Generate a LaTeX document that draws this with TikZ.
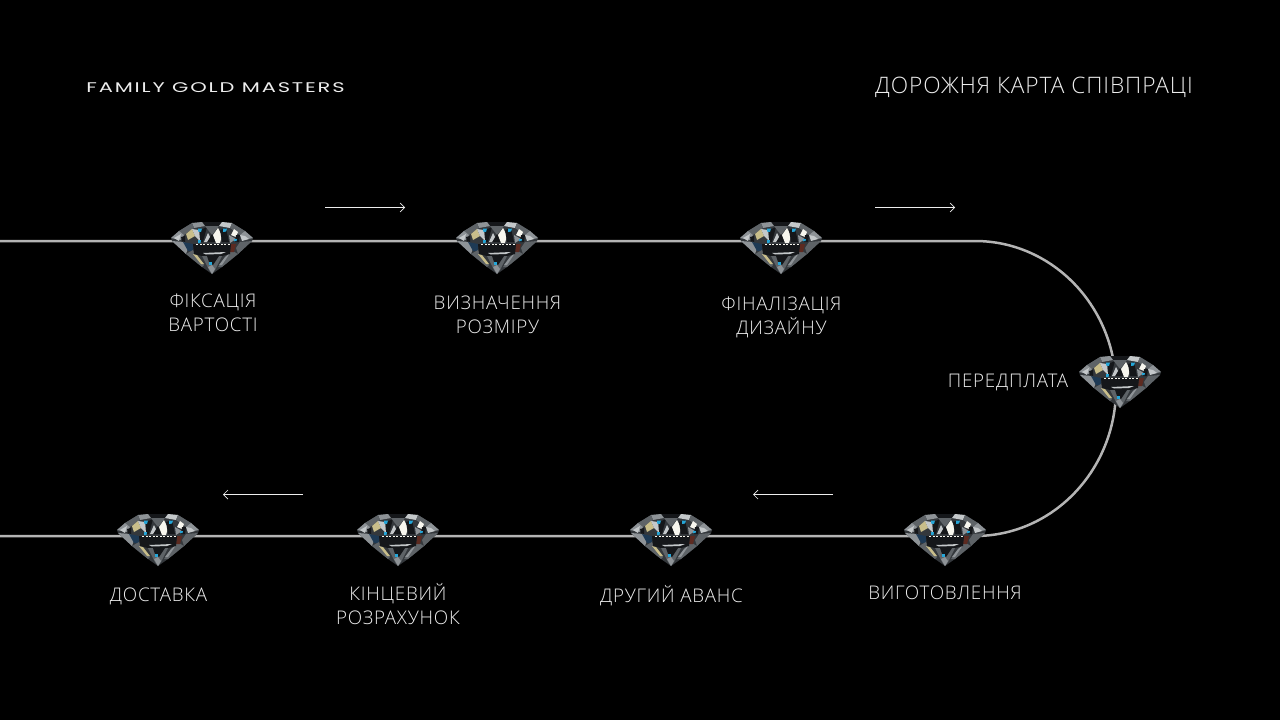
\documentclass[tikz,border=0pt]{standalone}
\usepackage{fontspec}
\setmainfont[LetterSpace=4]{Open Sans Light}
\newfontfamily\logofont[LetterSpace=13,FakeStretch=1.5]{Poppins}
\usetikzlibrary{arrows.meta}
\definecolor{road}{HTML}{B4B4B4}
\definecolor{ink}{HTML}{EDEDED}
\definecolor{gA}{HTML}{15171A}
\definecolor{gB}{HTML}{34383C}
\definecolor{gC}{HTML}{5E6367}
\definecolor{gD}{HTML}{8E9397}
\definecolor{gE}{HTML}{C4C8CA}
\definecolor{gW}{HTML}{F7F6EE}
\definecolor{gY}{HTML}{C9BE8A}
\definecolor{gT}{HTML}{25A6D8}
\definecolor{gN}{HTML}{1E3A55}
\definecolor{gR}{HTML}{5C2A20}
\newcommand\gemF[2]{\fill[#1] #2 -- cycle;}
\tikzset{
 x=1pt,y=-1pt,
 road/.style={draw=road,line width=2.5pt},
 lab/.style={text=ink,font=\fontsize{18.8pt}{24pt}\selectfont,align=center,inner sep=0pt},
 logo/.style={text=ink,font=\logofont\fontsize{14pt}{16pt}\selectfont,inner sep=0pt},
 title/.style={text=ink,font=\fontsize{22.7pt}{26pt}\selectfont,inner sep=0pt},
 flow/.style={draw=ink,line width=.7pt,-{Straight Barb[length=4.5pt,width=9pt,line width=.7pt]}},
 gem/.pic={
  % silhouette
  \gemF{gB}{(-41,0) -- (-33,-7) -- (-20,-15) -- (-8,-16) -- (8,-16) -- (20,-15) -- (33,-7) -- (41,0) -- (40,3) -- (26,16) -- (10,29) -- (0,36) -- (-10,29) -- (-26,16) -- (-40,3)}
  % crown
  \gemF{gA}{(-10,-16) -- (10,-16) -- (7,-12) -- (-7,-12)}
  \gemF{gD}{(-20,-15) -- (-10,-16) -- (-7,-12) -- (-18,-10)}
  \gemF{gE}{(20,-15) -- (10,-16) -- (7,-12) -- (18,-10)}
  \gemF{gC}{(-33,-7) -- (-20,-15) -- (-18,-10) -- (-28,-3)}
  \gemF{gC}{(33,-7) -- (20,-15) -- (18,-10) -- (28,-3)}
  \gemF{gD}{(-41,0) -- (-33,-7) -- (-28,-3) -- (-31,2)}
  \gemF{gD}{(41,0) -- (33,-7) -- (28,-3) -- (31,2)}
  \gemF{gY}{(-26,-4) -- (-20,-9) -- (-17,-2) -- (-24,2)}
  \gemF{gE}{(-17,-2) -- (-20,-9) -- (-13,-8) -- (-12,3)}
  \gemF{gA}{(-12,-8) -- (-5,-11) -- (-9,4) -- (-12,4)}
  \gemF{gC}{(-7,-12) -- (7,-12) -- (0,-3)}
  \gemF{gA}{(-5,4) -- (0,-4) -- (4,4)}
  \gemF{gE}{(-8,4) -- (-4,-5) -- (-2,-1) -- (-5,4)}
  \gemF{gW}{(1,-3) -- (6,-10) -- (10,-2) -- (8,5) -- (4,5)}
  \gemF{gA}{(8,-8) -- (14,-10) -- (17,4) -- (10,4)}
  \gemF{gW}{(22,-9) -- (26,-6) -- (24,-1) -- (19,-3)}
  \gemF{gD}{(17,-3) -- (24,1) -- (18,5)}
  \gemF{gE}{(28,-3) -- (33,-2) -- (37,1) -- (30,3)}
  \gemF{gA}{(24,-3) -- (28,-3) -- (27,4) -- (23,4)}
  \gemF{gE}{(-38,0) -- (-31,-4) -- (-33,3)}
  \gemF{gA}{(-31,-1) -- (-27,-2) -- (-27,4) -- (-30,4)}
  \gemF{gT}{(-14,-9.5) -- (-10,-9.5) -- (-11,-6) -- (-14,-6.5)}
  \gemF{gT}{(11,-9.5) -- (15,-9.5) -- (14,-6.5) -- (11,-6)}
  \gemF{gT}{(-14,2) -- (-11,2) -- (-11.5,5) -- (-14,5)}
  \gemF{gT}{(22,1) -- (25,1) -- (24.5,3) -- (22,3)}
  % girdle and pavilion
  \gemF{gD}{(-40,3) -- (-28,4) -- (-24,10) -- (-26,16)}
  \gemF{gC}{(40,3) -- (28,4) -- (24,10) -- (26,16)}
  \gemF{gN}{(-29,4) -- (-19,6) -- (-19,13) -- (-24,13)}
  \gemF{gC}{(-26,16) -- (-19,12) -- (-8,27) -- (-10,29)}
  \gemF{gY}{(-19,16) -- (-15,17) -- (-8,26) -- (-11,26)}
  \gemF{gC}{(26,16) -- (19,12) -- (6,29) -- (10,29)}
  \gemF{gD}{(13,19) -- (18,15) -- (10,27) -- (7,27)}
  \gemF{gR}{(19,6) -- (24,6) -- (22,14) -- (18,14)}
  \gemF{gA}{(-19,6) -- (19,6) -- (18,16) -- (10,18) -- (-10,18) -- (-18,16)}
  \gemF{gC}{(-10,18) -- (10,18) -- (3,32) -- (0,36) -- (-3,32)}
  \gemF{gA}{(-5,18) -- (7,18) -- (1,27) -- (-3,24)}
  \gemF{gE}{(-9,15) -- (14,14) -- (9,16) -- (-6,16.5)}
  \gemF{gT}{(-3,24) -- (0,24) -- (0,27) -- (-3,27)}
  \gemF{gD}{(-4,29) -- (0,27) -- (3,31) -- (0,36)}
  \foreach \i in {-16,-12.5,...,17}{\fill[gW] (\i,5.6) rectangle ++(2,1);}
 }
}
\begin{document}
\begin{tikzpicture}
\useasboundingbox (0,0) rectangle (1280,720);
\fill[black] (0,0) rectangle (1280,720);
\node[logo] (brand) at (215.5,87.5) {FAMILY GOLD MASTERS};
\node[title] (head) at (1034,87) {ДОРОЖНЯ КАРТА СПІВПРАЦІ};

\coordinate (startT) at (0,241);
\coordinate (d1) at (212,241);
\coordinate (d2) at (497,241);
\coordinate (d3) at (781,241);
\coordinate (bendT) at (975,241);
\coordinate (d5) at (945,536);
\coordinate (d6) at (671,536);
\coordinate (d7) at (398,536);
\coordinate (d8) at (158,536);
\coordinate (startB) at (0,536);

\draw[road] (startT) -- (d1) -- (d2) -- (d3) -- (bendT)
  arc[start angle=-90,end angle=90,x radius=141pt,y radius=-147.5pt]
  -- (d5) -- (d6) -- (d7) -- (d8) -- (startB);

\pic at (212,238) {gem};
\pic at (497,238) {gem};
\pic at (781,238) {gem};
\pic at (1120,372) {gem};
\pic at (945,530) {gem};
\pic at (671,530) {gem};
\pic at (398,530) {gem};
\pic at (158,530) {gem};

\node[lab] (l1) at (213,312.5) {ФІКСАЦІЯ\\ВАРТОСТІ};
\node[lab] (l2) at (497.5,314.5) {ВИЗНАЧЕННЯ\\РОЗМІРУ};
\node[lab] (l3) at (781.5,317.5) {ФІНАЛІЗАЦІЯ\\ДИЗАЙНУ};
\node[lab] (l4) at (1008,382) {ПЕРЕДПЛАТА};
\node[lab] (l5) at (945,593) {ВИГОТОВЛЕННЯ};
\node[lab] (l6) at (671.5,596) {ДРУГИЙ АВАНС};
\node[lab] (l7) at (398,604) {КІНЦЕВИЙ\\РОЗРАХУНОК};
\node[lab] (l8) at (158.5,596.5) {ДОСТАВКА};

\coordinate (a1s) at (325,207.5); \coordinate (a1e) at (405,207.5);
\coordinate (a2s) at (875,207.5); \coordinate (a2e) at (955,207.5);
\coordinate (a3s) at (833,494.5); \coordinate (a3e) at (753,494.5);
\coordinate (a4s) at (303,494.5); \coordinate (a4e) at (223,494.5);
\draw[flow] (a1s) -- (a1e);
\draw[flow] (a2s) -- (a2e);
\draw[flow] (a3s) -- (a3e);
\draw[flow] (a4s) -- (a4e);
\end{tikzpicture}
\end{document}
